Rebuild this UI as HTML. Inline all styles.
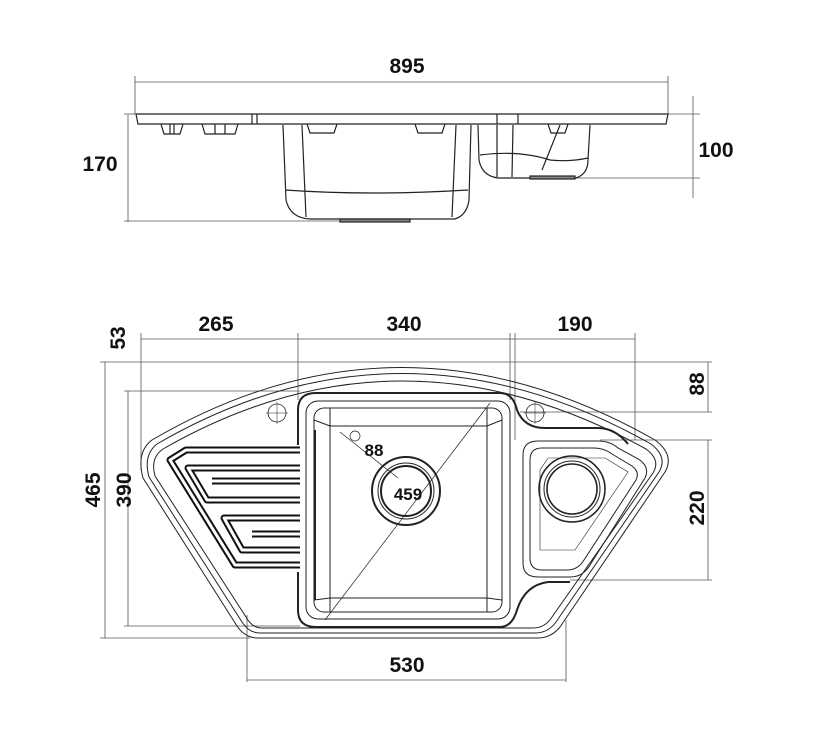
<!DOCTYPE html>
<html><head><meta charset="utf-8"><style>
html,body{margin:0;padding:0;background:#fff}
svg{display:block}
text{font-family:"Liberation Sans",Arial,sans-serif;font-weight:bold;font-size:21px;fill:#111}
</style></head><body>
<svg width="828" height="736" viewBox="0 0 828 736" xmlns="http://www.w3.org/2000/svg">
<g fill="none" stroke="#555" stroke-width="0.8">
<line x1="135" y1="82" x2="668" y2="82"/>
<line x1="135" y1="76" x2="135" y2="114"/>
<line x1="668" y1="76" x2="668" y2="114"/>
<line x1="128" y1="115" x2="128" y2="222"/>
<line x1="124" y1="114" x2="135" y2="114"/>
<line x1="124" y1="221" x2="380" y2="221"/>
<line x1="693" y1="96" x2="693" y2="198"/>
<line x1="668" y1="114" x2="700" y2="114"/>
<line x1="560" y1="178" x2="700" y2="178"/>
<line x1="141" y1="339" x2="635" y2="339"/>
<line x1="141" y1="333" x2="141" y2="470"/>
<line x1="298" y1="333" x2="298" y2="400"/>
<line x1="510" y1="333" x2="510" y2="400"/>
<line x1="515" y1="333" x2="515" y2="440"/>
<line x1="635" y1="333" x2="635" y2="440"/>
<line x1="105" y1="362" x2="105" y2="638"/>
<line x1="100" y1="362" x2="712" y2="362"/>
<line x1="128" y1="391" x2="128" y2="626"/>
<line x1="124" y1="391" x2="300" y2="391"/>
<line x1="124" y1="626" x2="300" y2="626"/>
<line x1="100" y1="638" x2="250" y2="638"/>
<line x1="708" y1="362" x2="708" y2="412"/>
<line x1="520" y1="412" x2="712" y2="412"/>
<line x1="708" y1="440" x2="708" y2="580"/>
<line x1="600" y1="440" x2="712" y2="440"/>
<line x1="570" y1="580" x2="712" y2="580"/>
<line x1="247" y1="615" x2="247" y2="682"/>
<line x1="566" y1="620" x2="566" y2="682"/>
<line x1="247" y1="680" x2="566" y2="680"/>
</g>
<text x="407" y="73" text-anchor="middle">895</text>
<text x="100" y="171" text-anchor="middle">170</text>
<text x="716" y="157" text-anchor="middle">100</text>
<text x="216" y="331" text-anchor="middle">265</text>
<text x="404" y="331" text-anchor="middle">340</text>
<text x="575" y="331" text-anchor="middle">190</text>
<text x="407" y="672" text-anchor="middle">530</text>
<text transform="translate(125,338) rotate(-90)" text-anchor="middle">53</text>
<text transform="translate(100,490) rotate(-90)" text-anchor="middle">465</text>
<text transform="translate(131,490) rotate(-90)" text-anchor="middle">390</text>
<text transform="translate(704,384) rotate(-90)" text-anchor="middle">88</text>
<text transform="translate(704,508) rotate(-90)" text-anchor="middle">220</text>
<text x="374" y="456" text-anchor="middle" style="font-size:17px">88</text>
<text x="408" y="500" text-anchor="middle" style="font-size:17px">459</text>

<!-- TOP VIEW -->
<g fill="none" stroke="#222" stroke-width="1.2">
<path d="M136 114 H668 L666 124 H138 Z"/>
<line x1="252" y1="114" x2="252" y2="124"/>
<line x1="257" y1="114" x2="257" y2="124"/>
<line x1="497" y1="114" x2="497" y2="124"/>
<line x1="518" y1="114" x2="518" y2="124"/>
<path d="M283 125 L286 200 Q290 218 310 219 H455 Q467 215 469 200 L471 125"/>
<path d="M302 125 L306 217"/>
<path d="M456 125 L452 217"/>
<path d="M285 190 Q370 196 468 190"/>
<rect x="340" y="219" width="70" height="3" fill="#888"/>
<path d="M478 125 L479 160 Q482 176 498 178 H576 Q588 174 588 160 L590 125"/>
<path d="M497 125 L497 177 M513 125 L512 177 M542 170 L560 125"/>
<path d="M480 155 Q520 150 550 160 Q570 162 588 158"/>
<rect x="530" y="176" width="45" height="3" fill="#888"/>
<path d="M161 124 l3 10 h16 l3 -10 M170 124 v10 M174 124 v10"/>
<path d="M202 124 l3 10 h30 l3 -10 M215 124 v10 M225 124 v10"/>
<path d="M307 124 l3 9 h24 l3 -9"/>
<path d="M415 124 l3 9 h24 l3 -9"/>
<path d="M548 124 l3 9 h14 l3 -9"/>
</g>

<!-- BOTTOM VIEW -->
<g fill="none" stroke="#222" stroke-width="1">
<path d="M152 440 Q400 295 655 440 Q675 455 665 472 L560 627 Q551 638 538 638 H258 Q245 638 237 626 L143 478 Q136 452 152 440 Z"/>
<path d="M157 444 Q400 303 651 444 Q668 457 659 472 L556 622 Q548 633 535 633 H260 Q249 633 242 622 L149 477 Q143 455 157 444 Z"/>
<path d="M163 449 Q400 313 646 449 Q661 460 653 473 L552 617 Q545 628 533 628 H262 Q252 628 246 617 L155 476 Q150 458 163 449 Z"/>
<path d="M298 445 V410 Q298 393 316 393 H500 Q513 393 517 410 Q524 428 545 428 H598 Q615 428 628 444" stroke-width="2"/>
<path d="M298 572 V610 Q298 627 316 627 H500 Q512 627 517 610 Q525 585 548 582 H570" stroke-width="2"/>
<line x1="315" y1="430" x2="315" y2="600" stroke-width="2"/>
<rect x="306" y="401" width="204" height="218" rx="12"/>
<rect x="314" y="408" width="188" height="204" rx="10"/>
<rect x="330" y="426" width="157" height="172"/>
<line x1="314" y1="420" x2="330" y2="426"/><line x1="502" y1="420" x2="487" y2="426"/>
<line x1="314" y1="600" x2="330" y2="598"/><line x1="502" y1="600" x2="487" y2="598"/>
<line x1="330" y1="426" x2="330" y2="408"/><line x1="487" y1="426" x2="487" y2="408"/>
<line x1="330" y1="598" x2="330" y2="612"/><line x1="487" y1="598" x2="487" y2="612"/>
<line x1="325" y1="620" x2="490" y2="403" stroke-width="0.7"/>
<line x1="340" y1="432" x2="398" y2="478" stroke-width="0.7"/>
<circle cx="406" cy="491" r="34" stroke-width="2"/>
<circle cx="406" cy="491" r="28"/>
<circle cx="406" cy="491" r="25" stroke-width="2"/>
<circle cx="355" cy="436" r="5" stroke-width="0.7"/>
<circle cx="277" cy="413" r="9" stroke-width="0.8"/>
<circle cx="535" cy="413" r="9" stroke-width="0.8"/>
<line x1="266" y1="413" x2="288" y2="413" stroke-width="0.5"/><line x1="277" y1="402" x2="277" y2="424" stroke-width="0.5"/>
<line x1="524" y1="413" x2="546" y2="413" stroke-width="0.5"/><line x1="535" y1="402" x2="535" y2="424" stroke-width="0.5"/>
<path d="M523 455 Q523 441 538 441 H598 Q610 441 618 448 L640 460 Q650 468 645 478 L590 565 Q583 577 570 577 H538 Q523 577 523 563 Z"/>
<path d="M530 460 Q530 448 542 448 H594 Q604 448 612 454 L632 466 Q640 472 636 480 L584 560 Q578 570 567 570 H542 Q530 570 530 558 Z"/>
<path d="M540 470 V550 H575 L628 472 L605 458 H548 Z" stroke-width="0.6"/>
<circle cx="572" cy="489" r="33" stroke-width="1.6"/>
<circle cx="572" cy="489" r="28"/>
<circle cx="572" cy="489" r="25" stroke-width="1.6"/>
</g>
<!-- drainboard grooves: black thick + white inner -->
<g fill="none" stroke-linejoin="round">
<g stroke="#111" stroke-width="7">
<path d="M300 450 H186 L170 460 L235 565 H300"/>
<path d="M300 468 H188 L207 500 H300"/>
<path d="M300 481 H212"/>
<path d="M300 518 H224 L242 550 H300"/>
<path d="M300 534 H252"/>
</g>
<g stroke="#fff" stroke-width="3">
<path d="M300 450 H186 L170 460 L235 565 H300"/>
<path d="M300 468 H188 L207 500 H300"/>
<path d="M300 481 H212"/>
<path d="M300 518 H224 L242 550 H300"/>
<path d="M300 534 H252"/>
</g>
</g>
</svg>
</body></html>
